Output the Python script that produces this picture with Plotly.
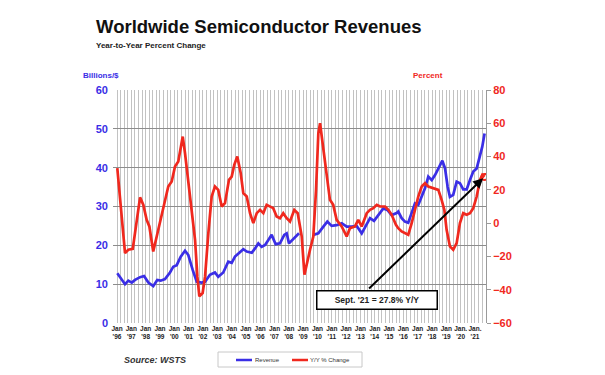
import plotly.graph_objects as go

# ---- data ----
rev_t = [1996.02,1996.33,1996.56,1996.79,1997.03,1997.26,1997.61,1997.89,1998.19,1998.53,1998.81,
         1999.05,1999.35,1999.70,1999.93,2000.17,2000.45,2000.75,2000.98,2001.29,2001.57,2001.91,
         2002.15,2002.49,2002.84,2003.07,2003.42,2003.77,2004.01,2004.24,2004.59,2004.82,2005.06,
         2005.41,2005.64,2005.87,2006.10,2006.34,2006.57,2006.80,2007.08,2007.38,2007.68,2007.85,
         2008.01,2008.31,2008.71,2009.20,2009.71,2010.06,2010.41,2010.69,2010.99,2011.34,2011.69,
         2012.04,2012.39,2012.74,2013.09,2013.32,2013.67,2013.95,2014.25,2014.60,2014.88,2015.18,
         2015.53,2015.64,2015.88,2016.11,2016.34,2016.58,2016.81,2017.04,2017.28,2017.51,2017.74,
         2017.98,2018.21,2018.44,2018.72,2018.91,2019.09,2019.25,2019.48,2019.72,2019.95,2020.18,
         2020.42,2020.65,2020.88,2021.12,2021.35,2021.51,2021.67]
revenue = [12.8,11.1,10.0,10.9,10.4,11.1,11.8,12.1,10.4,9.5,11.1,
           10.9,11.3,13.0,14.5,14.9,17.1,18.6,17.5,13.6,10.6,10.4,
           10.6,12.4,13.0,11.9,13.0,15.8,15.5,17.1,18.4,19.0,18.4,
           18.1,19.2,20.5,19.6,20.1,21.4,22.7,20.3,20.5,22.7,23.1,
           20.5,21.6,23.1,None,22.7,23.1,24.8,26.1,25.0,25.2,25.7,
           24.8,24.8,25.0,23.1,24.8,27.0,26.3,27.8,29.5,29.1,27.8,
           28.3,28.7,27.0,26.1,25.8,28.3,30.8,30.4,32.5,34.7,37.7,
           36.8,38.1,39.8,41.8,39.8,35.1,32.5,33.0,36.4,36.0,34.4,
           34.4,36.8,39.0,39.8,42.8,45.4,48.8]

yoy_t = [1996.02,1996.56,1996.79,1997.10,1997.61,1997.84,1998.07,1998.26,1998.53,1998.88,1999.23,
         1999.58,1999.82,2000.05,2000.28,2000.59,2000.75,2000.98,2001.22,2001.45,2001.61,2001.75,
         2001.98,2002.15,2002.38,2002.61,2002.84,2003.07,2003.31,2003.54,2003.82,2004.01,2004.19,
         2004.40,2004.64,2004.82,2005.06,2005.29,2005.52,2005.76,2005.99,2006.22,2006.45,2006.68,
         2006.91,2007.15,2007.38,2007.61,2007.85,2008.08,2008.38,2008.62,2008.90,2009.09,2009.25,
         2009.48,2009.71,2009.90,2010.06,2010.18,2010.36,2010.64,2010.87,2011.10,2011.34,2011.69,
         2012.04,2012.27,2012.62,2012.85,2013.09,2013.44,2013.67,2013.90,2014.14,2014.37,2014.72,
         2014.95,2015.18,2015.48,2015.64,2015.88,2016.11,2016.34,2016.58,2016.81,2017.04,2017.28,
         2017.51,2017.74,2018.09,2018.44,2018.67,2018.86,2019.02,2019.25,2019.48,2019.72,2019.95,
         2020.18,2020.42,2020.65,2020.88,2021.12,2021.35,2021.51,2021.67]
yoy = [33,-18,-16,-15.5,15.5,11,2,-2,-17,-4,8,
       22,25,34,37,52,42,24,8,-10,-32,-44,
       -42,-32,-6,16,22,20,10,12,26,28,35,
       40,30,18,16,6,0,6,8,6,11,10,
       9,4,3,6,3,1,8,6,-8,-31,-24,
       -16,-8,20,54,60,48,28,14,11,2,-2,
       -8,-3,-2,2,-2,6,8,9,11,10,10,
       8,5,-1,-3,-5,-6,-7,0,8,16,22,
       24,22,21,20,14,8,-4,-14,-16,-12,0,
       6,5,6,9,16,26,29,27.8]

tick_years = list(range(1996, 2022))
tick_text = [("Jan." if y >= 2020 else "Jan") + "<br>'" + str(y)[2:] for y in tick_years]

BLUE = "#3a2ee6"
RED = "#f0281e"
FONT = "Liberation Sans, Arial, sans-serif"

fig = go.Figure()
fig.add_trace(go.Scatter(x=yoy_t, y=yoy, name="Y/Y % Change", yaxis="y2", mode="lines",
                         line=dict(color=RED, width=2.7), showlegend=False))
fig.add_trace(go.Scatter(x=rev_t, y=revenue, name="Revenue", mode="lines",
                         line=dict(color=BLUE, width=2.7), connectgaps=False, showlegend=False))
fig.add_trace(go.Scatter(x=[yoy_t[-1]], y=[yoy[-1]], yaxis="y2", mode="markers",
                         marker=dict(color="rgba(0,0,0,0)", size=6, line=dict(color=RED, width=2)),
                         showlegend=False, hoverinfo="skip"))

W, H = 605, 375
L, R, T, B = 113, 119, 90, 52
pw, ph = W - L - R, H - T - B

def px(x):
    return (x - L) / pw

def py(y):
    return (H - B - y) / ph

fig.update_layout(
    width=W, height=H,
    margin=dict(l=L, r=R, t=T, b=B, autoexpand=False),
    paper_bgcolor="white", plot_bgcolor="white",
    font=dict(family=FONT),
    xaxis=dict(range=[1995.72, 2021.77], tickmode="array", tickvals=tick_years, ticktext=tick_text,
               tickangle=0, tickfont=dict(size=6.5, color="#222", weight="bold"),
               showgrid=True, gridcolor="#c2c2c2", gridwidth=1,
               ticks="", zeroline=False, showline=False, automargin=False,
               minor=dict(dtick=0.25, tick0=1996, showgrid=True, gridcolor="#c2c2c2", gridwidth=1)),
    yaxis=dict(range=[0, 60], dtick=10, tickfont=dict(size=11, color=BLUE, weight="bold"),
               showgrid=True, gridcolor="#8c8c8c", gridwidth=1, zeroline=False, ticks="",
               ticklabelstandoff=4, automargin=False),
    yaxis2=dict(range=[-60, 80], dtick=20, overlaying="y", side="right", showgrid=False,
                zeroline=False, showline=True, linecolor="#9a9a9a", linewidth=1,
                ticks="outside", ticklen=4, tickcolor="#9a9a9a", automargin=False,
                tickfont=dict(size=11, color=RED, weight="bold")),
)

ann = []
ann.append(dict(text="<b>Worldwide Semiconductor Revenues</b>", x=px(94), y=py(26), xref="paper", yref="paper",
                xanchor="left", yanchor="middle", showarrow=False, font=dict(size=18.5, color="#111")))
ann.append(dict(text="<b>Year-to-Year Percent Change</b>", x=px(94), y=py(46), xref="paper", yref="paper",
                xanchor="left", yanchor="middle", showarrow=False, font=dict(size=8, color="#222")))
ann.append(dict(text="<b>Billions/$</b>", x=px(81), y=py(76), xref="paper", yref="paper",
                xanchor="left", yanchor="middle", showarrow=False, font=dict(size=8, color=BLUE)))
ann.append(dict(text="<b>Percent</b>", x=px(411), y=py(75), xref="paper", yref="paper",
                xanchor="left", yanchor="middle", showarrow=False, font=dict(size=8, color=RED)))
ann.append(dict(text="<b><i>Source: WSTS</i></b>", x=px(122), y=py(360), xref="paper", yref="paper",
                xanchor="left", yanchor="middle", showarrow=False, font=dict(size=9, color="#333")))
# legend texts
ann.append(dict(text="Revenue", x=px(253), y=py(360), xref="paper", yref="paper",
                xanchor="left", yanchor="middle", showarrow=False, font=dict(size=6, color="#333")))
ann.append(dict(text="Y/Y % Change", x=px(308), y=py(360), xref="paper", yref="paper",
                xanchor="left", yanchor="middle", showarrow=False, font=dict(size=6, color="#333")))
# arrow
ann.append(dict(text="", x=yoy_t[-1], y=yoy[-1], xref="x", yref="y2", showarrow=True,
                ax=-117, ay=113, axref="pixel", ayref="pixel", arrowhead=2, arrowsize=1,
                arrowwidth=2, arrowcolor="#000", standoff=2))
# callout box
ann.append(dict(text="<b>Sept. '21 = 27.8% Y/Y</b>", x=px(376.5), y=py(299.5), xref="paper", yref="paper",
                xanchor="center", yanchor="middle", showarrow=False, font=dict(size=8.5, color="#222"),
                bgcolor="white", bordercolor="#000", borderwidth=1.5, borderpad=1, width=117, height=15))
fig.update_layout(annotations=ann)

shapes = []
shapes.append(dict(type="rect", xref="paper", yref="paper", x0=px(218), x1=px(362), y0=py(367), y1=py(352),
                   line=dict(color="#c8c8c8", width=1), fillcolor="white"))
shapes.append(dict(type="line", xref="paper", yref="paper", x0=px(236), x1=px(252), y0=py(360), y1=py(360),
                   line=dict(color=BLUE, width=2.5)))
shapes.append(dict(type="line", xref="paper", yref="paper", x0=px(292), x1=px(308), y0=py(360), y1=py(360),
                   line=dict(color=RED, width=2.5)))
fig.update_layout(shapes=shapes)

fig.write_html("out.html", config={"displayModeBar": False},
               post_script="document.body.style.margin='0';document.body.style.padding='0';")
